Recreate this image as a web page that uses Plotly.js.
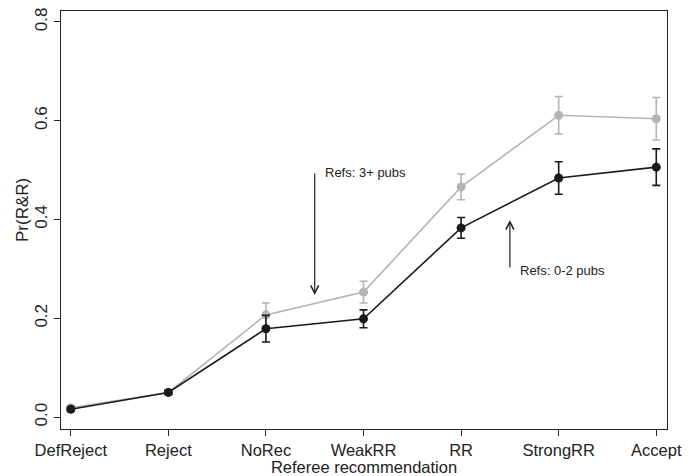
<!DOCTYPE html>
<html>
<head>
<meta charset="utf-8">
<script src="https://cdn.plot.ly/plotly-3.0.1.min.js"></script>
<style>html,body{margin:0;padding:0;background:#fff;}#chart{width:697px;height:476px;}</style>
</head>
<body>
<div id="chart"></div>
<script>
const categories = ["DefReject","Reject","NoRec","WeakRR","RR","StrongRR","Accept"];
const lowPubs = [0.016, 0.050, 0.179, 0.199, 0.383, 0.484, 0.506];
const lowPubsErr = [0.004, 0.004, 0.027, 0.018, 0.021, 0.033, 0.037];
const highPubs = [0.019, 0.050, 0.207, 0.253, 0.466, 0.611, 0.604];
const highPubsErr = [0.004, 0.004, 0.024, 0.022, 0.026, 0.038, 0.043];
const yTicks = [0, 0.2, 0.4, 0.6, 0.8];
const yTickText = ["0.0","0.2","0.4","0.6","0.8"];

const xIdx = categories.map((c, i) => i);
const font = "Liberation Sans, Arial, Helvetica, sans-serif";
const grey = "#b4b4b4";
const black = "#1a1a1a";

const traces = [
  {
    x: xIdx, y: highPubs, type: "scatter", mode: "lines+markers",
    line: {color: grey, width: 1.6},
    marker: {color: grey, size: 9},
    error_y: {type: "data", array: highPubsErr, visible: true, color: grey, thickness: 1.6, width: 4},
    showlegend: false, hoverinfo: "skip"
  },
  {
    x: xIdx, y: lowPubs, type: "scatter", mode: "lines+markers",
    line: {color: black, width: 1.6},
    marker: {color: black, size: 9},
    error_y: {type: "data", array: lowPubsErr, visible: true, color: black, thickness: 1.6, width: 4},
    showlegend: false, hoverinfo: "skip"
  }
];

const layout = {
  width: 697, height: 476,
  margin: {l: 61, r: 30, t: 11, b: 47, pad: 0},
  paper_bgcolor: "#fff", plot_bgcolor: "#fff",
  font: {family: font, size: 16, color: "#222"},
  xaxis: {
    range: [-0.1, 6.11],
    tickvals: xIdx, ticktext: categories,
    ticks: "outside", ticklen: 6, tickcolor: "#222", tickwidth: 1,
    showline: true, linecolor: "#222", linewidth: 1, mirror: true,
    showgrid: false, zeroline: false,
    tickfont: {size: 16.5, family: font, color: "#222"},
    title: {text: "Referee recommendation", font: {size: 16.5, family: font, color: "#222"}, standoff: 0}
  },
  yaxis: {
    range: [-0.024, 0.822],
    tickvals: yTicks, ticktext: yTickText, tickangle: -90,
    ticks: "outside", ticklen: 6, tickcolor: "#222", tickwidth: 1,
    showline: true, linecolor: "#222", linewidth: 1, mirror: true,
    showgrid: false, zeroline: false,
    tickfont: {size: 17, family: font, color: "#222"}
  },
  annotations: [
    {x: 2.5, y: 0.247, ax: 2.5, ay: 0.496, xref: "x", yref: "y", axref: "x", ayref: "y",
     text: "", showarrow: true, arrowhead: 5, arrowsize: 1.3, arrowwidth: 1.2, arrowcolor: "#222"},
    {x: 2.585, y: 0.496, xref: "x", yref: "y", text: "Refs: 3+ pubs", showarrow: false,
     xanchor: "left", yanchor: "middle", font: {size: 13, family: font, color: "#222"}},
    {x: 4.5, y: 0.399, ax: 4.5, ay: 0.300, xref: "x", yref: "y", axref: "x", ayref: "y",
     text: "", showarrow: true, arrowhead: 5, arrowsize: 1.3, arrowwidth: 1.2, arrowcolor: "#222"},
    {x: 4.585, y: 0.296, xref: "x", yref: "y", text: "Refs: 0-2 pubs", showarrow: false,
     xanchor: "left", yanchor: "middle", font: {size: 13, family: font, color: "#222"}}
  ]
};

// y-axis title as a rotated annotation at the reference position
layout.annotations.push({
  x: (22 - 61) / (697 - 61 - 30), y: (476 - 47 - 210) / (476 - 47 - 11),
  xref: "paper", yref: "paper", text: "Pr(R&R)", textangle: -90, showarrow: false,
  xanchor: "center", yanchor: "middle", font: {size: 17, family: font, color: "#222"}
});

Plotly.newPlot("chart", traces, layout, {displayModeBar: false, staticPlot: true});
</script>
</body>
</html>
